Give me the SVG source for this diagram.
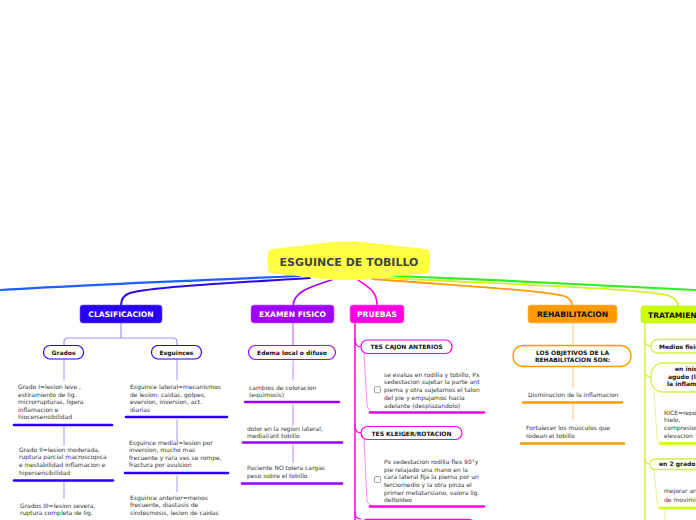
<svg xmlns="http://www.w3.org/2000/svg" width="696" height="520" viewBox="0 0 696 520">
<style>
text{font-family:"DejaVu Sans",Verdana,sans-serif}
.main{font-size:7.6px;font-weight:bold;text-anchor:middle}
.sub{font-size:6px;font-weight:bold;fill:#111}
.t{font-size:6px;fill:#333}
.c{fill:none;stroke-linecap:round}
.bar{fill:none;stroke-width:2.6;stroke-linecap:round}
.box{fill:#fff;stroke:#888;stroke-width:0.8}
</style>
<rect width="696" height="520" fill="#fff"/>
<g id="connectors">
<path class="c" d="M 300 276 C 200 280, 80 285, 0 290" stroke="#1e5eff" stroke-width="2.2"/>
<path class="c" d="M 310 278 C 230 283, 150 287, 130 293 Q 121 296 121 305" stroke="#2a0cf0" stroke-width="2"/>
<path class="c" d="M 334 279 C 312 287, 295 290, 293 305" stroke="#a100ff" stroke-width="1.6"/>
<path class="c" d="M 358 280 C 370 288, 377 292, 377 305" stroke="#ff00e0" stroke-width="1.6"/>
<path class="c" d="M 372 279 C 460 286, 540 290, 564 296 Q 572 299 572 305" stroke="#ff9a10" stroke-width="1.8"/>
<path class="c" d="M 385 278 C 500 284, 640 288, 670 296 Q 678 300 678 306" stroke="#d8f020" stroke-width="1.8"/>
<path class="c" d="M 395 276 C 500 280, 620 286, 696 290" stroke="#33ee22" stroke-width="2.2"/>
<path class="c" d="M 121 323 V 338 M 64 346 V 342 Q 64 338 68 338 H 173 Q 177 338 177 342 V 346" stroke="#9f93ff" stroke-width="1.2"/>
<path class="c" d="M 64 359 V 380 M 64 427 V 445 M 64 482 V 498 M 177 359 V 380 M 177 420 V 440 M 177 476 V 492" stroke="#b9afff" stroke-width="1.3"/>
<path class="c" d="M 293 323 V 345" stroke="#c070ff" stroke-width="1.2"/>
<path class="c" d="M 293 361 V 380 M 293 405 V 425 M 293 445 V 462" stroke="#d49cff" stroke-width="1.3"/>
<path class="c" d="M 355 323 V 520" stroke="#ff00e0" stroke-width="1.5"/>
<path class="c" d="M 355 339 C 355 345, 358 347, 361 347 M 355 425 C 355 431, 358 433, 361 433 M 355 512 C 355 517, 358 519, 361 519" stroke="#ff00e0" stroke-width="1.2"/>
<path class="c" d="M 364 353 L 367 405 Q 368 412 374 412 M 364 439 L 367 500 Q 368 506 374 506" stroke="#ff88ee" stroke-width="1"/>
<path class="c" d="M 573 323 V 345 M 573 366 V 388 M 573 404 V 420" stroke="#ffcc99" stroke-width="1.2"/>
<path class="c" d="M 645 323 V 520" stroke="#d4f040" stroke-width="1.5"/>
<path class="c" d="M 645 340 C 645 345, 648 346, 651 346 M 645 371 C 645 376, 648 377, 651 377 M 645 458 C 645 463, 648 464, 650 464" stroke="#d4f040" stroke-width="1.2"/>
<path class="c" d="M 654 392 L 657 437 Q 658 443 663 443 M 654 469 L 657 502 Q 658 508 663 508 M 665 510 V 520" stroke="#e2f590" stroke-width="1"/>
</g>
<g id="root">
<path d="M 272 249 L 333 242 L 362 242 L 426 249 Q 430 250 430 254 L 430 269 Q 430 273 426 273 L 362 280 L 333 280 L 272 273 Q 268 273 268 269 L 268 254 Q 268 250 272 249 Z" fill="#ffff44"/>
<text x="349" y="266" text-anchor="middle" font-size="11px" font-weight="bold" fill="#444">ESGUINCE DE TOBILLO</text>
</g>
<g id="clasificacion">
<rect x="80" y="305" width="82" height="18" rx="3" fill="#2a00f5" stroke="#6a55ff" stroke-width="0.6"/>
<text class="main" x="121" y="317" fill="#fff">CLASIFICACION</text>
</g>
<g id="grados">
<rect x="43.5" y="345.5" width="40" height="13.5" rx="6.5" fill="#fff" stroke="#2a00f5" stroke-width="1.2"/>
<text class="sub" x="63.5" y="354.5" text-anchor="middle">Grados</text>
</g>
<g id="grado1">
<text class="t" x="18" y="389"><tspan x="18">Grado I=lesion leve ,</tspan><tspan x="18" dy="7.5">estiramiento de lig.</tspan><tspan x="18" dy="7.5">microrrupturas, ligera</tspan><tspan x="18" dy="7.5">inflamacion e</tspan><tspan x="18" dy="7.5">hiocersensibilidad</tspan></text>
<path class="bar" d="M 14 425 H 112" stroke="#2a00f5"/>
</g>
<g id="grado2">
<text class="t" x="19" y="451.5"><tspan x="19">Grado II=lesion moderada,</tspan><tspan x="19" dy="7.7">ruptura parcial macroscopica</tspan><tspan x="19" dy="7.7">e inestabilidad inflamacion e</tspan><tspan x="19" dy="7.7">hipersensibilidad</tspan></text>
<path class="bar" d="M 14 480.5 H 113" stroke="#2a00f5"/>
</g>
<g id="grado3">
<text class="t" x="20" y="507.5"><tspan x="20">Grados III=lesion severa,</tspan><tspan x="20" dy="7.5">ruptura completa de lig.</tspan></text>
</g>
<g id="esguinces">
<rect x="151.5" y="345.5" width="50" height="13.5" rx="6.5" fill="#fff" stroke="#2a00f5" stroke-width="1.2"/>
<text class="sub" x="176.5" y="354.5" text-anchor="middle">Esguinces</text>
</g>
<g id="esg-lateral">
<text class="t" x="130" y="389"><tspan x="130">Esguince lateral=mecanismos</tspan><tspan x="130" dy="7.6">de lesion: caidas, golpes,</tspan><tspan x="130" dy="7.6">eversion, inversion, act.</tspan><tspan x="130" dy="7.6">diarias</tspan></text>
<path class="bar" d="M 126 417 H 227" stroke="#2a00f5"/>
</g>
<g id="esg-medial">
<text class="t" x="129" y="445"><tspan x="129">Esguince medial=lesion por</tspan><tspan x="129" dy="7.4">inversion, mucho mas</tspan><tspan x="129" dy="7.4">frecuente y rara ves se rompe,</tspan><tspan x="129" dy="7.4">fractura por avulsion</tspan></text>
<path class="bar" d="M 125 473 H 228" stroke="#2a00f5"/>
</g>
<g id="esg-anterior">
<text class="t" x="130" y="500"><tspan x="130">Esguince anterior=menos</tspan><tspan x="130" dy="7.4">frecuente, diastasis de</tspan><tspan x="130" dy="7.4">sindesmosis, lesion de caidas</tspan></text>
</g>
<g id="examen">
<rect x="251" y="305" width="83" height="18" rx="3" fill="#a100ff" stroke="#c060ff" stroke-width="0.6"/>
<text class="main" x="292.5" y="317" fill="#fff">EXAMEN FISICO</text>
</g>
<g id="edema">
<rect x="248.5" y="345.5" width="87" height="14" rx="7" fill="#fff" stroke="#a100ff" stroke-width="1.2"/>
<text class="sub" x="292" y="354.8" text-anchor="middle">Edema local o difuso</text>
</g>
<g id="ex1">
<text class="t" x="249" y="389.5"><tspan x="249">cambios de coloracion</tspan><tspan x="249" dy="7.7">(equimosis)</tspan></text>
<path class="bar" d="M 245 402 H 339" stroke="#9900ff"/>
</g>
<g id="ex2">
<text class="t" x="247" y="430.5"><tspan x="247">dolor en la region lateral,</tspan><tspan x="247" dy="7.2">medial/ant tobillo</tspan></text>
<path class="bar" d="M 243 442.5 H 342" stroke="#9900ff"/>
</g>
<g id="ex3">
<text class="t" x="247" y="469.5"><tspan x="247">Paciente NO tolera cargas</tspan><tspan x="247" dy="8.2">peso sobre el tobillo</tspan></text>
<path class="bar" d="M 242 483.5 H 342" stroke="#9900ff"/>
</g>
<g id="pruebas">
<rect x="350" y="305" width="54" height="18" rx="3" fill="#ff00e0" stroke="#ff60f0" stroke-width="0.6"/>
<text class="main" x="377" y="317" fill="#fff">PRUEBAS</text>
</g>
<g id="cajon">
<rect x="361" y="340" width="91" height="13.5" rx="6.5" fill="#fff" stroke="#ff00e0" stroke-width="1.2"/>
<text class="sub" x="406.5" y="349.3" text-anchor="middle">TES CAJON ANTERIOS</text>
</g>
<g id="cajon-txt">
<rect class="box" x="374.5" y="386.7" width="6" height="6" rx="1"/>
<text class="t" x="384" y="376.5"><tspan x="384">se evalua en rodilla y tobillo, Px</tspan><tspan x="384" dy="7.8">sedestacion sujetar la parte ant</tspan><tspan x="384" dy="7.8">pierna y otra sujetamos el talon</tspan><tspan x="384" dy="7.8">del pie y empujamos hacia</tspan><tspan x="384" dy="7.8">adelante (desplazandolo)</tspan></text>
<path class="bar" d="M 370 412.5 H 484" stroke="#ff00e0"/>
</g>
<g id="kleiger">
<rect x="361" y="426.5" width="101" height="13" rx="6.5" fill="#fff" stroke="#ff00e0" stroke-width="1.2"/>
<text class="sub" x="411.5" y="435.5" text-anchor="middle">TES KLEIGER/ROTACION</text>
</g>
<g id="kleiger-txt">
<rect class="box" x="374.5" y="476.5" width="6" height="6" rx="1"/>
<text class="t" x="384" y="463.8"><tspan x="384">Px sedestacion rodilla flex 90°y</tspan><tspan x="384" dy="7.7">pie relajado una mano en la</tspan><tspan x="384" dy="7.7">cara lateral fija la pierna por un</tspan><tspan x="384" dy="7.7">terciomedio y la otra pinza el</tspan><tspan x="384" dy="7.7">primer metatarsiano, valora lig.</tspan><tspan x="384" dy="7.7">deltoideo</tspan></text>
<path class="bar" d="M 370 506.5 H 484" stroke="#ff00e0"/>
</g>
<g id="prueba3">
<rect x="361" y="519.3" width="114" height="13" rx="6.5" fill="#fff" stroke="#ff00e0" stroke-width="1.2"/>
</g>
<g id="rehab">
<rect x="528" y="305" width="89" height="18" rx="3" fill="#ff9a00" stroke="#ffbb55" stroke-width="0.6"/>
<text class="main" x="572.5" y="317" fill="#111">REHABILITACION</text>
</g>
<g id="objetivos">
<rect x="513" y="345.5" width="118" height="21" rx="10" fill="#fff" stroke="#ff9a00" stroke-width="1.3"/>
<text class="sub" x="572.5" y="354.5" text-anchor="middle"><tspan x="572.5">LOS OBJETIVOS DE LA</tspan><tspan x="572.5" dy="7.6">REHABILITACION SON:</tspan></text>
</g>
<g id="rh1">
<text class="t" x="528" y="397">Disminucion de la inflamacion</text>
<path class="bar" d="M 523 402.5 H 622" stroke="#ff9a00"/>
</g>
<g id="rh2">
<text class="t" x="526" y="429.5"><tspan x="526">Fortalecer los músculos que</tspan><tspan x="526" dy="8">rodean el tobillo</tspan></text>
<path class="bar" d="M 521 443.5 H 624" stroke="#ff9a00"/>
</g>
<g id="tratamiento">
<rect x="641" y="306" width="70" height="17" rx="3" fill="#ccff00" stroke="#bbe800" stroke-width="0.6"/>
<text class="main" x="648" y="317.5" style="text-anchor:start" fill="#111">TRATAMIENTO</text>
</g>
<g id="medios">
<rect x="651" y="339.5" width="80" height="13.5" rx="6.5" fill="#fff" stroke="#d4f040" stroke-width="1.3"/>
<text class="sub" x="659" y="348.8">Medios fisicos</text>
</g>
<g id="agudo">
<rect x="651" y="363" width="90" height="29" rx="12" fill="#fff" stroke="#d4f040" stroke-width="1.3"/>
<text class="sub" x="675" y="371"><tspan x="675">en inicio</tspan><tspan x="668" dy="7.6">agudo (lesion)</tspan><tspan x="667" dy="7.6">la inflamacion</tspan></text>
</g>
<g id="rice">
<text class="t" x="664" y="414.7"><tspan x="664">RICE=reposo,</tspan><tspan x="664" dy="7.6">hielo,</tspan><tspan x="664" dy="7.6">compresion</tspan><tspan x="664" dy="7.6">elevacion</tspan></text>
<path class="bar" d="M 660 443.5 H 700" stroke="#ccff00"/>
</g>
<g id="grado2t">
<rect x="650" y="459" width="70" height="10.5" rx="5" fill="#fff" stroke="#d4f040" stroke-width="1.3"/>
<text class="sub" x="659" y="466.3">en 2 grado</text>
</g>
<g id="mejorar">
<text class="t" x="664" y="493"><tspan x="664">mejorar arcos</tspan><tspan x="664" dy="8.5">de movimiento</tspan></text>
<path class="bar" d="M 660 508 H 700" stroke="#ccff00"/>
</g>
</svg>
